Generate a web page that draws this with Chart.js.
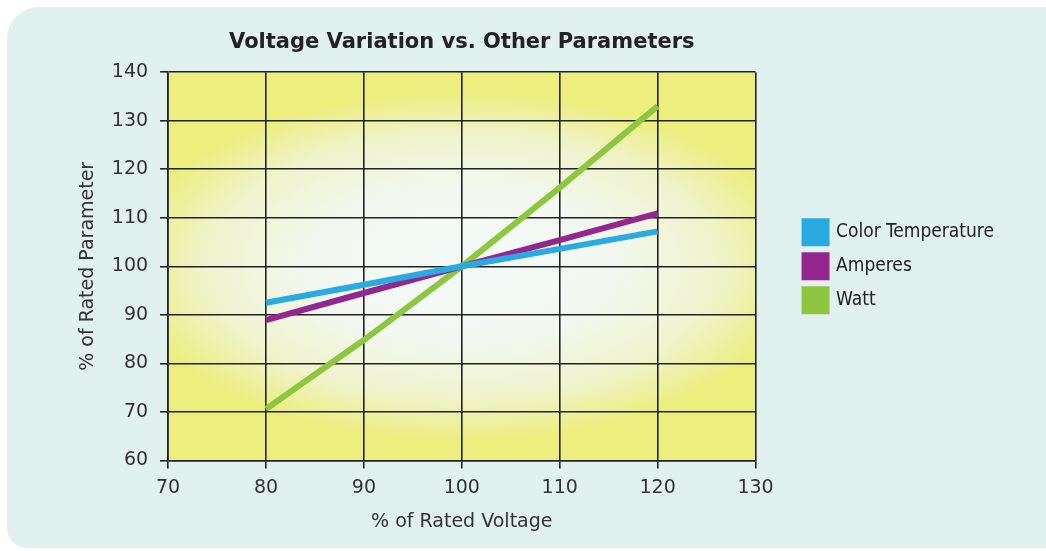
<!DOCTYPE html>
<html>
<head>
<meta charset="utf-8">
<script src="https://cdn.jsdelivr.net/npm/chart.js@4.4.0/dist/chart.umd.min.js"></script>
<style>
  html, body { margin: 0; padding: 0; background: #ffffff; overflow: hidden; }
  #panel { position: absolute; left: 7px; top: 7px; width: 1080px; height: 541px;
           background: #e1f1f0; border-radius: 32px 0 0 20px; }
  #wrap { position: absolute; left: 0; top: 0; width: 1046px; height: 551px; }
</style>
</head>
<body>
<div id="panel"></div>
<div id="wrap"><canvas id="c" width="1046" height="551"></canvas></div>
<script>
const voltage = [80, 90, 100, 110, 120];
const colorTemperature = [92.5, 96.2, 100, 103.6, 107.2];
const amperes = [88.9, 94.5, 100, 105.4, 110.9];
const watt = [70.6, 84.8, 100, 116.2, 133.0];
const xTicks = [70, 80, 90, 100, 110, 120, 130];
const yTicks = [60, 70, 80, 90, 100, 110, 120, 130, 140];

function pts(ys) { return voltage.map((v, i) => ({ x: v, y: ys[i] })); }

const bgPlugin = {
  id: 'plotBg',
  beforeDraw(chart) {
    const { ctx, chartArea: a } = chart;
    const cx = (a.left + a.right) / 2, cy = (a.top + a.bottom) / 2;
    const rx = (a.right - a.left) * 0.58, ry = (a.bottom - a.top) * 0.45;
    ctx.save();
    ctx.beginPath();
    ctx.rect(a.left, a.top, a.right - a.left, a.bottom - a.top);
    ctx.clip();
    ctx.fillStyle = '#ecee7e';
    ctx.fillRect(a.left, a.top, a.right - a.left, a.bottom - a.top);
    ctx.translate(cx, cy);
    ctx.scale(rx / ry, 1);
    const g = ctx.createRadialGradient(0, 0, 0, 0, 0, ry);
    g.addColorStop(0, '#f3f9f8');
    g.addColorStop(0.45, '#f2f8ef');
    g.addColorStop(0.75, '#f0f3cc');
    g.addColorStop(1, '#ecee7e');
    ctx.fillStyle = g;
    ctx.fillRect(-ry * 3, -ry * 3, ry * 6, ry * 6);
    ctx.restore();
  }
};

const tickFont = { family: 'DejaVu Sans', size: 19 };
const gridCfg = { color: '#222222', lineWidth: 1.6, tickLength: 8, drawTicks: true };

new Chart(document.getElementById('c'), {
  type: 'line',
  data: {
    datasets: [
      { label: 'Color Temperature', data: pts(colorTemperature), borderColor: '#29abe2', backgroundColor: '#29abe2' },
      { label: 'Amperes', data: pts(amperes), borderColor: '#93278f', backgroundColor: '#93278f' },
      { label: 'Watt', data: pts(watt), borderColor: '#8dc63f', backgroundColor: '#8dc63f' }
    ]
  },
  options: {
    responsive: false,
    animation: false,
    devicePixelRatio: 1,
    layout: { padding: { left: 73, right: 42, top: 30, bottom: 14 } },
    elements: { point: { radius: 0 }, line: { borderWidth: 6, tension: 0, borderCapStyle: 'butt' } },
    plugins: {
      title: { display: true, fullSize: false, text: 'Voltage Variation vs. Other Parameters',
               font: { family: 'DejaVu Sans', size: 21, weight: 'bold' }, color: '#222222',
               padding: { top: 0, bottom: 17 } },
      legend: { position: 'right', fullSize: false, maxWidth: 260,
                labels: { boxWidth: 22, boxHeight: 22, padding: 12, color: '#222222',
                          font: { family: 'DejaVu Sans Condensed', size: 19 } } },
      tooltip: { enabled: false }
    },
    scales: {
      x: { type: 'linear', min: 70, max: 130,
           afterBuildTicks(s) { s.ticks = xTicks.map(v => ({ value: v })); },
           ticks: { font: tickFont, color: '#333333', padding: 8 },
           grid: gridCfg, border: { display: true, color: '#222222', width: 1.6 },
           title: { display: true, text: '% of Rated Voltage', font: { family: 'DejaVu Sans', size: 19 }, color: '#333333', padding: { top: 3 } } },
      y: { type: 'linear', min: 60, max: 140,
           afterBuildTicks(s) { s.ticks = yTicks.map(v => ({ value: v })); },
           ticks: { font: tickFont, color: '#333333', padding: 12 },
           grid: gridCfg, border: { display: true, color: '#222222', width: 1.6 },
           title: { display: true, text: '% of Rated Parameter', font: { family: 'DejaVu Sans', size: 19 }, color: '#333333', padding: { bottom: 0 } } },
      spacer: { type: 'linear', position: 'right', display: true, min: 0, max: 1,
                ticks: { display: false }, grid: { display: false, drawTicks: false }, border: { display: false },
                afterFit(s) { s.width = 37; } }
    }
  },
  plugins: [bgPlugin]
});
</script>
</body>
</html>
